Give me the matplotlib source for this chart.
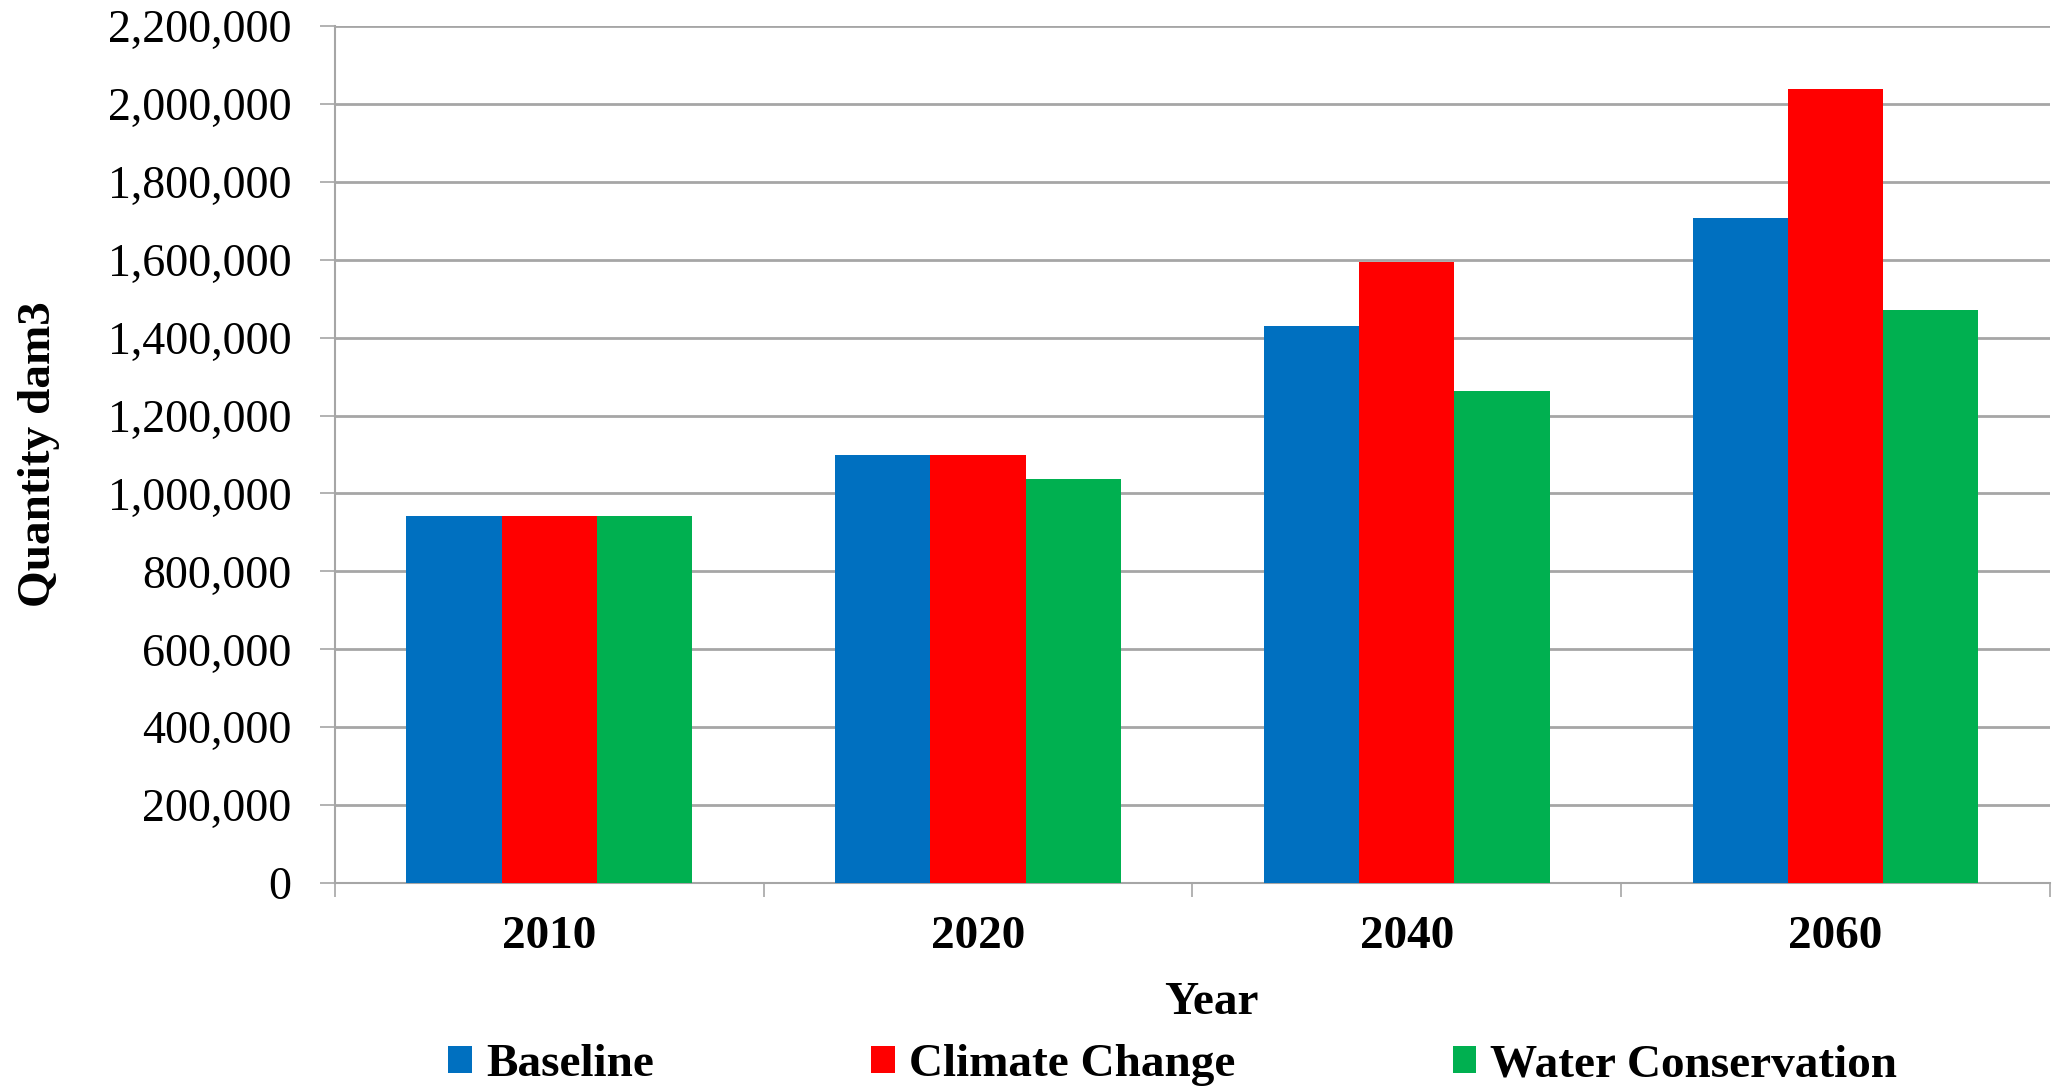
import matplotlib
matplotlib.use("Agg")
import matplotlib.pyplot as plt
import numpy as np
from matplotlib.ticker import FuncFormatter, FixedLocator

plt.rcParams["font.family"] = ["Liberation Serif", "DejaVu Serif"]

years = ["2010", "2020", "2040", "2060"]
baseline = [942000, 1100000, 1431000, 1708000]
climate_change = [942000, 1100000, 1595000, 2039000]
water_conservation = [942000, 1036000, 1264000, 1471000]

series = [("Baseline", baseline, "#0070C0"),
          ("Climate Change", climate_change, "#FF0000"),
          ("Water Conservation", water_conservation, "#00B050")]

GRID = "#A6A6A6"

fig = plt.figure(figsize=(20.54, 10.88), dpi=100)
ax = fig.add_axes([0.163, 0.1884, 0.835, 0.7877])

x = np.arange(len(years))
w = 0.222
for i, (name, vals, col) in enumerate(series):
    ax.bar(x + (i - 1) * w, vals, width=w, color=col, label=name, zorder=3)

ax.set_xlim(-0.5, len(years) - 0.5)
ax.set_ylim(0, 2200000)
ax.set_yticks(np.arange(0, 2200001, 200000))
ax.yaxis.set_major_formatter(FuncFormatter(lambda v, p: f"{int(v):,}"))
ax.grid(axis="y", color=GRID, linewidth=2, zorder=0)

# category labels centred, tick marks only on the boundaries
ax.set_xticks(x)
ax.set_xticklabels(years, fontweight="bold")
ax.xaxis.set_minor_locator(FixedLocator(np.arange(-0.5, len(years), 1.0)))
ax.tick_params(axis="x", which="major", length=0, pad=24, labelsize=34)
ax.tick_params(axis="x", which="minor", length=10, width=1.2, color=GRID)
ax.tick_params(axis="y", length=11, width=1.2, color=GRID, pad=20, labelsize=33)

for s in ("top", "right"):
    ax.spines[s].set_visible(False)
for s in ("left", "bottom"):
    ax.spines[s].set_color(GRID)
    ax.spines[s].set_linewidth(1.5)

ax.set_ylabel("Quantity dam3", fontsize=34, fontweight="bold")
ax.yaxis.set_label_coords(-0.16, 0.5)
ax.set_xlabel("Year", fontsize=34, fontweight="bold")
ax.xaxis.set_label_coords(0.511, -0.115)

fig.legend(loc="center", bbox_to_anchor=(0.571, 0.021), ncol=3, frameon=False,
           prop={"size": 34, "weight": "bold"}, handlelength=0.5, handleheight=0.5,
           handletextpad=0.3, columnspacing=4.6)

fig.savefig("out.png", dpi=100, facecolor="white")
